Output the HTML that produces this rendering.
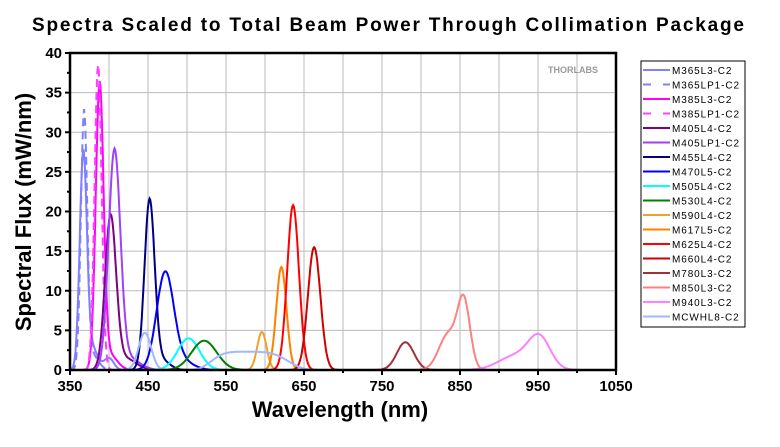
<!DOCTYPE html>
<html><head><meta charset="utf-8"><style>
body{margin:0;background:#fff;width:780px;height:442px;overflow:hidden;font-family:"Liberation Sans",Arial,sans-serif}
</style></head><body>
<svg id="s" width="780" height="442" xmlns="http://www.w3.org/2000/svg" font-family="Liberation Sans, Arial, sans-serif">
<text x="32" y="31" font-size="19" font-weight="bold" textLength="712" lengthAdjust="spacing">Spectra Scaled to Total Beam Power Through Collimation Package</text>
<text x="340" y="417" text-anchor="middle" font-size="22" font-weight="bold">Wavelength (nm)</text>
<text transform="translate(31,212) rotate(-90)" text-anchor="middle" font-size="22" font-weight="bold">Spectral Flux (mW/nm)</text>
<g id="grid" stroke="#bbb" stroke-width="1"></g>
<text x="548" y="73" font-size="9" font-weight="bold" fill="#999">THORLABS</text>
<g id="curves" fill="none" stroke-width="2"></g>
<g id="axes"></g>
<g id="leg"></g>
</svg>
<script>
const X0=70,X1=616,Y0=370,Y1=53;
const xs=w=>X0+(w-350)/700*(X1-X0), ys=v=>Y0-v/40*(Y0-Y1);
const NS="http://www.w3.org/2000/svg";
function el(p,t,a,txt){const e=document.createElementNS(NS,t);for(const k in a)e.setAttribute(k,a[k]);if(txt!==undefined)e.textContent=txt;document.getElementById(p).appendChild(e);return e;}
for(let w=400;w<1050;w+=50)el("grid","line",{x1:xs(w),x2:xs(w),y1:Y1,y2:Y0});
for(let v=5;v<40;v+=5)el("grid","line",{x1:X0,x2:X1,y1:ys(v),y2:ys(v)});
el("axes","rect",{x:X0,y:Y1,width:X1-X0,height:Y0-Y1,fill:"none",stroke:"#000","stroke-width":2.5});
for(let w=350;w<=1050;w+=50){const big=(w-350)%100==0;el("axes","line",{x1:xs(w),x2:xs(w),y1:Y0,y2:Y0+(big?5:3),stroke:"#000","stroke-width":2});
 if(big)el("axes","text",{x:xs(w),y:Y0+21,"text-anchor":"middle","font-size":15,"font-weight":"bold"},w);}
for(let v=0;v<=40;v+=2.5){const big=v%5==0;el("axes","line",{x1:X0,x2:X0-(big?5:3),y1:ys(v),y2:ys(v),stroke:"#000","stroke-width":2});
 if(big)el("axes","text",{x:X0-8,y:ys(v)+5,"text-anchor":"end","font-size":15,"font-weight":"bold"},v);}
const g=(w,c,s)=>Math.exp(-0.5*((w-c)/s)**2);
const S=[
["M365L3-C2","#8080ff",0,w=>26.5*g(w,367,4.5)+1.5*g(w,400,6)+3*g(w,377,8)],
["M365LP1-C2","#8080ff",1,w=>32*g(w,368,4)+2*g(w,378,8)],
["M385L3-C2","#ff00ff",0,w=>35.5*g(w,388,5)+2*g(w,400,10)],
["M385LP1-C2","#ff40ff",1,w=>38.5*g(w,386,4.5)],
["M405L4-C2","#800080",0,w=>19*g(w,402,7)+1.5*g(w,420,14)],
["M405LP1-C2","#a040ff",0,w=>27.3*g(w,407,7.5)+1.5*g(w,425,14)],
["M455L4-C2","#000080",0,w=>21.3*g(w,452,6.5)+1.2*g(w,468,10)],
["M470L5-C2","#0000ff",0,w=>12.2*g(w,472,11)+1*g(w,495,14)],
["M505L4-C2","#00ffff",0,w=>4*g(w,502,14)],
["M530L4-C2","#008000",0,w=>3.7*g(w,522,16)],
["M590L4-C2","#f0a030",0,w=>4.8*g(w,596,6)],
["M617L5-C2","#ff8000",0,w=>13*g(w,621,6.5)],
["M625L4-C2","#ff0000",0,w=>20.8*g(w,636,7.5)],
["M660L4-C2","#d00000",0,w=>15.5*g(w,663,8)],
["M780L3-C2","#a03040",0,w=>3.5*g(w,780,11)],
["M850L3-C2","#ff8080",0,w=>8.3*g(w,855,8)+4.5*g(w,835,12)],
["M940L3-C2","#ff80ff",0,w=>3.8*g(w,952,14)+1.8*g(w,922,22)],
["MCWHL8-C2","#a0b8ff",0,w=>4.7*g(w,446,8)+2.3*Math.exp(-0.5*((w-575)/(w<575?40:50))**4)]
];
S.forEach(([n,c,d,f])=>{let p="";for(let w=350;w<=1050;w+=1){const v=f(w);p+=(p?"L":"M")+xs(w).toFixed(1)+","+ys(v).toFixed(1);}
 const a={d:p,stroke:c};if(d)a["stroke-dasharray"]="8,5";el("curves","path",a);});
el("leg","rect",{x:641,y:61,width:104,height:266,fill:"#fff",stroke:"#000","stroke-width":1});
S.forEach(([n,c,d],i)=>{const y=70+i*14.5;const a={x1:643,x2:670,y1:y,y2:y,stroke:c,"stroke-width":2};if(d)a["stroke-dasharray"]="8,12";el("leg","line",a);
 el("leg","text",{x:672,y:y+4,"font-size":10,"letter-spacing":"0.9"},n);});
</script>
</body></html>
